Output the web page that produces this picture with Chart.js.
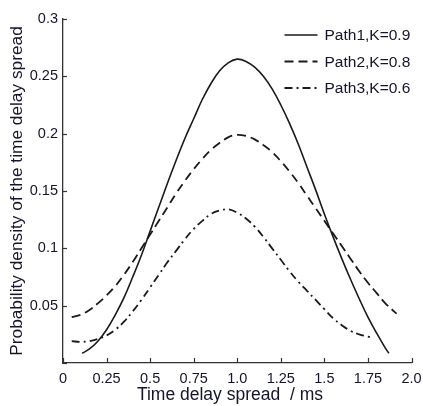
<!DOCTYPE html>
<html>
<head>
<meta charset="utf-8">
<script src="https://cdn.jsdelivr.net/npm/chart.js@4/dist/chart.umd.min.js"></script>
<style>
  html, body { margin: 0; background: #fff; }
  #wrap { width: 423px; height: 406px; }
</style>
</head>
<body>
<div id="wrap"><canvas id="delayChart"></canvas></div>
<script>
// values
const path1X = [0.11, 0.15, 0.2, 0.25, 0.3, 0.35, 0.4, 0.45, 0.5, 0.55, 0.6, 0.65, 0.7, 0.75, 0.8, 0.85, 0.9, 0.95, 1.0,
                1.05, 1.1, 1.15, 1.2, 1.25, 1.3, 1.35, 1.4, 1.45, 1.5, 1.55, 1.6, 1.65, 1.7, 1.75, 1.8, 1.85, 1.87];
const path1Y = [0.0085, 0.012, 0.019, 0.029, 0.042, 0.057, 0.075, 0.094, 0.115, 0.136, 0.157, 0.177, 0.196, 0.213, 0.23, 0.244, 0.255, 0.262, 0.265,
                0.263, 0.258, 0.25, 0.239, 0.225, 0.209, 0.191, 0.171, 0.151, 0.13, 0.11, 0.091, 0.073, 0.056, 0.04, 0.026, 0.013, 0.0085];

const path2X = [0.05, 0.1, 0.15, 0.2, 0.25, 0.3, 0.35, 0.4, 0.45, 0.5, 0.55, 0.6, 0.65, 0.7, 0.75, 0.8, 0.85, 0.9, 0.95, 1.0,
                1.05, 1.1, 1.15, 1.2, 1.25, 1.3, 1.35, 1.4, 1.45, 1.5, 1.55, 1.6, 1.65, 1.7, 1.75, 1.8, 1.85, 1.9, 1.915];
const path2Y = [0.04, 0.042, 0.046, 0.052, 0.059, 0.067, 0.077, 0.088, 0.1, 0.112, 0.124, 0.136, 0.148, 0.159, 0.169, 0.178, 0.186, 0.192, 0.197, 0.199,
                0.198, 0.195, 0.19, 0.184, 0.176, 0.167, 0.157, 0.146, 0.135, 0.124, 0.113, 0.102, 0.091, 0.08, 0.07, 0.061, 0.052, 0.045, 0.043];

const path3X = [0.05, 0.1, 0.15, 0.2, 0.25, 0.3, 0.35, 0.4, 0.45, 0.5, 0.55, 0.6, 0.65, 0.7, 0.75, 0.8, 0.85, 0.9, 0.95, 1.0,
                1.05, 1.1, 1.15, 1.2, 1.25, 1.3, 1.35, 1.4, 1.45, 1.5, 1.55, 1.6, 1.65, 1.7, 1.75, 1.78];
const path3Y = [0.019, 0.0185, 0.019, 0.021, 0.024, 0.029, 0.036, 0.045, 0.055, 0.066, 0.077, 0.088, 0.098, 0.108, 0.117, 0.124, 0.13, 0.133, 0.134, 0.131,
                0.126, 0.119, 0.11, 0.1, 0.09, 0.08, 0.071, 0.063, 0.055, 0.047, 0.039, 0.033, 0.028, 0.025, 0.023, 0.0215];

const seriesLabels = ['Path1,K=0.9', 'Path2,K=0.8', 'Path3,K=0.6'];
const xTickLabels = ['0', '0.25', '0.5', '0.75', '1.0', '1.25', '1.5', '1.75', '2.0'];
const yTickLabels = ['', '0.05', '0.1', '0.15', '0.2', '0.25', '0.3'];

const inkColor = '#1a1a1a';
const textColor = '#14142a';
const fontFamily = '"Liberation Sans", Arial, sans-serif';

const toPoints = (xs, ys) => xs.map((x, i) => ({ x: x, y: ys[i] }));

// small tick marks pointing into the plot
const innerTicks = {
    id: 'innerTicks',
    afterDraw(chart) {
        const { ctx, scales: { x, y } } = chart;
        ctx.save();
        ctx.strokeStyle = '#333';
        ctx.lineWidth = 1.2;
        x.ticks.forEach(t => {
            const px = Math.round(x.getPixelForValue(t.value)) + 0.5;
            ctx.beginPath();
            ctx.moveTo(px, x.top);
            ctx.lineTo(px, x.top - 5);
            ctx.stroke();
        });
        y.ticks.forEach(t => {
            const py = Math.round(y.getPixelForValue(t.value)) + 0.5;
            ctx.beginPath();
            ctx.moveTo(y.right, py);
            ctx.lineTo(y.right + 4, py);
            ctx.stroke();
        });
        ctx.restore();
    }
};

// legend with line samples, drawn inside the top-right of the plot
const lineLegend = {
    id: 'lineLegend',
    afterDraw(chart) {
        const { ctx, chartArea } = chart;
        const x0 = chartArea.right - 127;
        const y0 = chartArea.top + 16;
        ctx.save();
        ctx.font = '15.5px ' + fontFamily;
        ctx.textBaseline = 'middle';
        chart.data.datasets.forEach((ds, i) => {
            const yy = y0 + i * 26.5;
            ctx.strokeStyle = ds.borderColor;
            ctx.lineWidth = ds.borderWidth;
            ctx.setLineDash(ds.borderDash || []);
            ctx.beginPath();
            ctx.moveTo(x0, yy);
            ctx.lineTo(x0 + 33, yy);
            ctx.stroke();
            ctx.setLineDash([]);
            ctx.fillStyle = textColor;
            ctx.fillText(ds.label, x0 + 40, yy + 1);
        });
        ctx.restore();
    }
};

const ctx = document.getElementById('delayChart');
new Chart(ctx, {
    type: 'line',
    data: {
        datasets: [
            {
                label: seriesLabels[0],
                data: toPoints(path1X, path1Y),
                borderColor: inkColor,
                borderWidth: 1.6,
                borderDash: [],
            },
            {
                label: seriesLabels[1],
                data: toPoints(path2X, path2Y),
                borderColor: inkColor,
                borderWidth: 1.8,
                borderDash: [9, 5],
            },
            {
                label: seriesLabels[2],
                data: toPoints(path3X, path3Y),
                borderColor: inkColor,
                borderWidth: 1.8,
                borderDash: [8, 4, 2, 4],
            }
        ]
    },
    options: {
        responsive: true,
        maintainAspectRatio: false,
        animation: false,
        layout: { padding: { top: 19, right: 11.5, left: 0, bottom: 0 } },
        elements: {
            point: { radius: 0 },
            line: { tension: 0.4, fill: false }
        },
        plugins: {
            legend: { display: false },
            tooltip: { enabled: false }
        },
        scales: {
            x: {
                type: 'linear',
                min: 0,
                max: 2,
                afterFit: s => { s.height = 43; s.paddingLeft = 0; s.paddingRight = 0; },
                grid: { display: false, drawTicks: false },
                border: { display: true, color: '#333', width: 1.3 },
                ticks: {
                    stepSize: 0.25,
                    padding: 7,
                    color: textColor,
                    font: { family: fontFamily, size: 14.5 },
                    maxRotation: 0,
                    autoSkip: false,
                    callback: (v, i) => xTickLabels[i]
                },
                title: {
                    display: true,
                    text: 'Time delay spread  / ms   ',
                    color: textColor,
                    font: { family: fontFamily, size: 17.5 },
                    padding: { top: 0, bottom: 0 }
                }
            },
            y: {
                type: 'linear',
                min: 0,
                max: 0.3,
                afterFit: s => { s.width = 63; s.paddingTop = 0; s.paddingBottom = 0; },
                grid: { display: false, drawTicks: false },
                border: { display: true, color: '#333', width: 1.3 },
                ticks: {
                    stepSize: 0.05,
                    padding: 5,
                    color: textColor,
                    font: { family: fontFamily, size: 14.5 },
                    autoSkip: false,
                    callback: (v, i) => yTickLabels[i]
                },
                title: {
                    display: true,
                    text: 'Probability density of the time delay spread',
                    color: textColor,
                    font: { family: fontFamily, size: 17.3 },
                    padding: { top: 7, bottom: 0 }
                }
            }
        }
    },
    plugins: [innerTicks, lineLegend]
});
</script>
</body>
</html>
